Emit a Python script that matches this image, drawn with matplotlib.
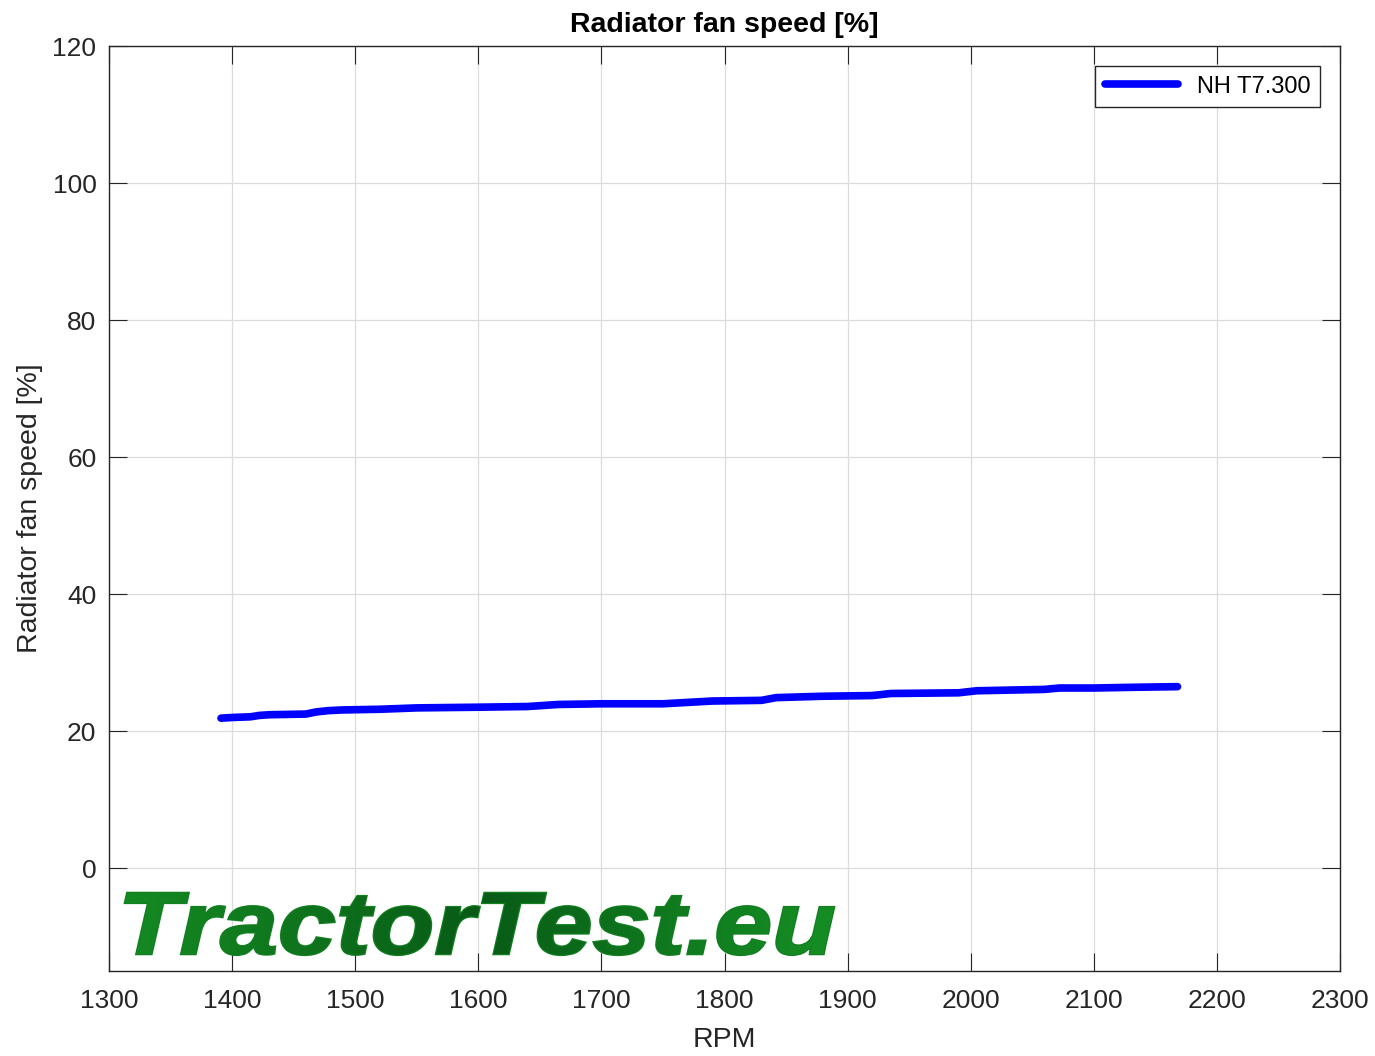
import matplotlib.pyplot as plt
import numpy as np
from matplotlib.textpath import TextPath
from matplotlib.font_manager import FontProperties
from matplotlib.patches import PathPatch
from matplotlib.transforms import Affine2D
from matplotlib.colors import LinearSegmentedColormap

plt.rcParams['font.family'] = ['Liberation Sans', 'DejaVu Sans']

rpm = [1391, 1400, 1415, 1422, 1430, 1460, 1468, 1478, 1490, 1520, 1550, 1600,
       1640, 1665, 1700, 1750, 1770, 1790, 1830, 1842, 1880, 1920, 1935, 1990,
       2005, 2060, 2072, 2100, 2130, 2168]
fan_speed = [21.9, 22.0, 22.1, 22.3, 22.4, 22.5, 22.8, 23.0, 23.1, 23.2, 23.4, 23.5,
             23.6, 23.9, 24.0, 24.0, 24.2, 24.4, 24.5, 24.9, 25.1, 25.2, 25.5, 25.6,
             25.9, 26.1, 26.3, 26.3, 26.4, 26.5]

W, H = 1375, 1056
fig = plt.figure(figsize=(W / 100, H / 100), dpi=100)
ax = fig.add_axes([109 / W, 1 - 971 / H, (1340 - 109) / W, (971 - 46) / H])

ax.plot(rpm, fan_speed, color='#0000ff', lw=5.5, solid_capstyle='round',
        solid_joinstyle='round', label='NH T7.300')

ax.set_xlim(1300, 2300)
ax.set_ylim(-15, 120)
ax.set_xticks(np.arange(1300, 2301, 100))
ax.set_yticks(np.arange(0, 121, 20))
ax.grid(True, color='#dcdcdc', lw=0.9)
ax.tick_params(direction='in', length=13, width=0.8, top=True, right=True,
               labelsize=19, colors='#262626')
ax.tick_params(axis='x', pad=13)
ax.tick_params(axis='y', pad=9)
for s in ax.spines.values():
    s.set_linewidth(1.0)
    s.set_color('#262626')

ax.set_title('Radiator fan speed [%]', fontsize=20.5, fontweight='bold', pad=10)
ax.set_xlabel('RPM', fontsize=20.5, color='#262626', labelpad=10)
ax.set_ylabel('Radiator fan speed [%]', fontsize=20.5, color='#262626', labelpad=6.5)

leg = ax.legend(loc='upper right', fontsize=17, fancybox=False, framealpha=1,
                edgecolor='#262626', handlelength=3.1, borderaxespad=0.85)
leg.get_frame().set_linewidth(1.0)

# watermark: bold italic text path with a green gradient, placed in pixels
over = fig.add_axes([0, 0, 1, 1])
over.set_xlim(0, W)
over.set_ylim(0, H)
over.axis('off')
fp = FontProperties(family='Liberation Sans', weight='bold', style='italic')
tp = TextPath((0, 0), 'TractorTest.eu', size=1, prop=fp)
t_cap = TextPath((0, 0), 'T', size=1, prop=fp).get_extents()
ext = tp.get_extents()
x0, x1, base, cap = 125, 834, H - 954, 61
sx = (x1 - x0) / ext.width
sy = cap / (t_cap.y1 - t_cap.y0)
tp = Affine2D().translate(-ext.x0, -t_cap.y0).scale(sx, sy).translate(x0, base).transform_path(tp)
edge = PathPatch(tp, facecolor='none', edgecolor='#127f20', lw=1.8,
                 transform=over.transData)
over.add_patch(edge)
face = PathPatch(tp, facecolor='none', edgecolor='none', transform=over.transData)
over.add_patch(face)
cmap = LinearSegmentedColormap.from_list(
    'tt', ['#148a22', '#0f741d', '#085a17', '#0f781e', '#168e24'])
grad = np.linspace(0, 1, 256).reshape(1, -1)
img = over.imshow(grad, cmap=cmap, extent=(x0 - 5, x1 + 5, base - 30, base + 80),
                  aspect='auto', zorder=2)
img.set_clip_path(face)

fig.savefig('out.png', dpi=100)
